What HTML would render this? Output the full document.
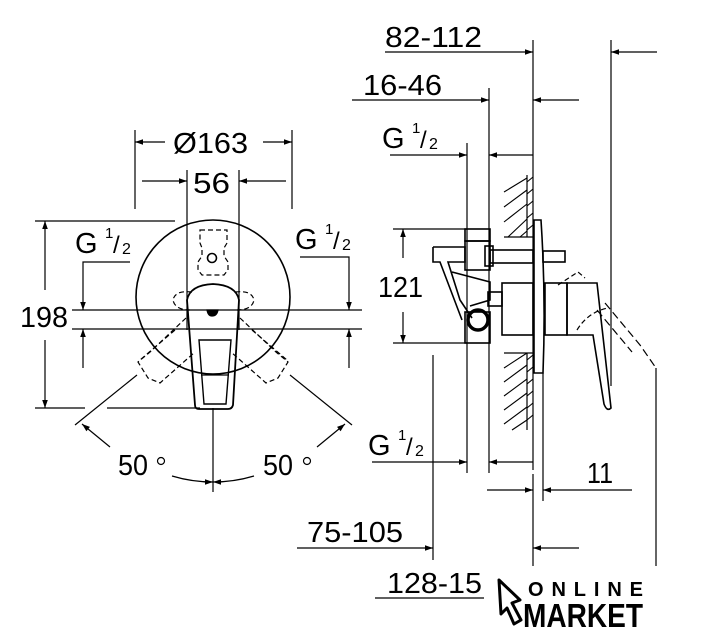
<!DOCTYPE html>
<html><head><meta charset="utf-8"><style>
html,body{margin:0;padding:0;background:#fff;width:704px;height:640px;overflow:hidden}
svg text{font-family:"Liberation Sans",sans-serif;fill:#000}
</style></head><body>
<svg width="704" height="640" viewBox="0 0 704 640" xmlns="http://www.w3.org/2000/svg">
<defs>
<marker id="a" viewBox="0 0 10 10" refX="10" refY="5" markerWidth="14" markerHeight="8" markerUnits="userSpaceOnUse" orient="auto"><path d="M0,1.5 L10,5 L0,8.5 Z" fill="#000"/></marker>
</defs>
<g stroke="#000" stroke-width="1.2" fill="none">
<!-- LEFT VIEW -->
<line x1="135" y1="130" x2="135" y2="209"/><line x1="292" y1="130" x2="292" y2="209"/>
<line x1="165" y1="142" x2="135" y2="142" marker-end="url(#a)"/>
<line x1="263" y1="142" x2="292" y2="142" marker-end="url(#a)"/>
<line x1="187" y1="170" x2="187" y2="330"/><line x1="239" y1="170" x2="239" y2="330"/>
<line x1="142" y1="181" x2="187" y2="181" marker-end="url(#a)"/>
<line x1="286" y1="181" x2="239" y2="181" marker-end="url(#a)"/>
<line x1="35" y1="221" x2="175" y2="221"/>
<line x1="35" y1="408" x2="85" y2="408"/><line x1="107" y1="408" x2="200" y2="408"/>
<line x1="45" y1="290" x2="45" y2="221" marker-end="url(#a)"/>
<line x1="45" y1="340" x2="45" y2="408" marker-end="url(#a)"/>
<line x1="72" y1="310" x2="362" y2="310"/><line x1="72" y1="329" x2="362" y2="329"/>
<polyline points="130,262 83,262 83,310" marker-end="url(#a)"/>
<line x1="83" y1="368" x2="83" y2="329" marker-end="url(#a)"/>
<polyline points="300,257 349,257 349,310" marker-end="url(#a)"/>
<line x1="349" y1="368" x2="349" y2="329" marker-end="url(#a)"/>
<circle cx="213" cy="297" r="77" stroke-width="1.6"/>
<g stroke-dasharray="5,3">
<path d="M200,230 H227 V243 L224,248 V256 L228,262 V270 L224,275 H202 L198,270 V262 L202,256 V248 L200,243 Z"/>
<path d="M192,292 Q175,290 173,300 Q175,310 190,310"/>
<path d="M235,292 Q252,290 254,300 Q252,310 237,310"/>
<path d="M186,318 L150,352 L138,362 L148,378 L160,383 L195,352"/>
<path d="M240,318 L276,352 L288,362 L278,378 L266,383 L231,352"/>
<path d="M175,330 L140,360"/><path d="M252,330 L287,360"/>
</g>
<path d="M187,300 Q190,285 213,284 Q236,285 239,300 L233,405 Q232,409 228,409 L199,409 Q195,409 195,405 Z" stroke-width="1.8"/>
<path d="M199,340 L231,340 L226,404 L204,404 Z" stroke-width="1.4"/>
<line x1="201" y1="375" x2="229" y2="375"/>
<circle cx="212" cy="258" r="4.5" stroke-width="1.6"/>
<path d="M207,310 H218 Q217,316 212,316 Q208,316 207,310 Z" fill="#000"/>
<line x1="213" y1="408" x2="213" y2="492"/>
<line x1="137" y1="375" x2="75" y2="425"/>
<line x1="290" y1="375" x2="352" y2="425"/>
<line x1="110" y1="447" x2="82" y2="424" marker-end="url(#a)"/>
<line x1="317" y1="447" x2="345" y2="424" marker-end="url(#a)"/>
<path d="M172,476 Q192,482 213,482" marker-end="url(#a)"/>
<path d="M254,476 Q234,482 213,482" marker-end="url(#a)"/>
<circle cx="161" cy="461" r="3.5"/>
<circle cx="307" cy="461" r="3.5"/>

<!-- RIGHT VIEW -->
<line x1="533" y1="40" x2="533" y2="470"/><line x1="533" y1="474" x2="533" y2="566"/>
<line x1="611" y1="40" x2="611" y2="386"/>
<line x1="385" y1="52" x2="533" y2="52" marker-end="url(#a)"/>
<line x1="657" y1="52" x2="611" y2="52" marker-end="url(#a)"/>
<line x1="489" y1="88" x2="489" y2="473"/>
<line x1="352" y1="100" x2="489" y2="100" marker-end="url(#a)"/>
<line x1="579" y1="100" x2="533" y2="100" marker-end="url(#a)"/>
<line x1="467" y1="143" x2="467" y2="473"/>
<line x1="390" y1="155" x2="467" y2="155" marker-end="url(#a)"/>
<line x1="533" y1="155" x2="489" y2="155" marker-end="url(#a)"/>
<!-- wall -->
<line x1="527" y1="175" x2="527" y2="237"/><line x1="527" y1="353" x2="527" y2="430"/>
<g stroke-width="1.1">
<line x1="504" y1="192" x2="527" y2="178"/><line x1="504" y1="207" x2="527" y2="190"/><line x1="504" y1="222" x2="527" y2="204"/><line x1="508" y1="237" x2="527" y2="219"/><line x1="520" y1="237" x2="527" y2="231"/>
<line x1="504" y1="368" x2="527" y2="353"/><line x1="504" y1="382" x2="527" y2="365"/><line x1="504" y1="396" x2="527" y2="379"/><line x1="504" y1="410" x2="527" y2="393"/><line x1="504" y1="424" x2="527" y2="407"/><line x1="512" y1="430" x2="527" y2="420"/>
<line x1="527" y1="182" x2="533" y2="177"/><line x1="527" y1="194" x2="533" y2="189"/><line x1="527" y1="206" x2="533" y2="201"/><line x1="527" y1="218" x2="533" y2="213"/><line x1="527" y1="230" x2="533" y2="225"/>
<line x1="527" y1="360" x2="533" y2="355"/><line x1="527" y1="372" x2="533" y2="367"/><line x1="527" y1="384" x2="533" y2="379"/><line x1="527" y1="396" x2="533" y2="391"/><line x1="527" y1="408" x2="533" y2="403"/><line x1="527" y1="420" x2="533" y2="415"/>
</g>
<line x1="504" y1="237" x2="533" y2="237"/><line x1="504" y1="353" x2="533" y2="353"/>
<path d="M534,220 H541 Q546,296 543,373 H534 Z" stroke-width="1.6"/>
<!-- 121 -->
<line x1="393" y1="229" x2="467" y2="229"/><line x1="393" y1="343" x2="467" y2="343"/>
<line x1="403" y1="258" x2="403" y2="229" marker-end="url(#a)"/>
<line x1="403" y1="312" x2="403" y2="343" marker-end="url(#a)"/>
<line x1="433" y1="355" x2="433" y2="560"/>
<g stroke-width="1.6">
<rect x="465" y="229" width="25" height="12"/>
<rect x="465" y="241" width="25" height="29"/>
<path d="M433,247 H465 V262 H448 L460,300 L472,318 M433,247 V262 L440,262 L462,320"/>
<path d="M452,272 L490,282 V300 L470,306"/>
<rect x="490" y="250" width="43" height="13"/>
<rect x="485" y="246" width="8" height="20"/>
<rect x="543" y="251" width="22" height="11"/>
<rect x="502" y="283" width="31" height="52"/>
<rect x="488" y="292" width="14" height="14"/>
<rect x="545" y="283" width="22" height="52"/>
<rect x="465" y="312" width="25" height="31"/>
<circle cx="478" cy="320" r="10" stroke-width="3.5"/>
<path d="M567,283 H597 L611,408 Q607,412 604,404 L593,335 H567 Z"/>
</g>
<path d="M558,285 L578,272 L585,278" stroke-dasharray="5,3"/>
<path d="M577,330 Q588,312 608,308" stroke-dasharray="5,3"/>
<path d="M605,303 L640,345 L656,368 M597,310 L632,352" stroke-dasharray="8,4"/>
<line x1="656" y1="368" x2="656" y2="566"/>
<!-- lower dims -->
<line x1="372" y1="462" x2="467" y2="462" marker-end="url(#a)"/>
<line x1="533" y1="462" x2="489" y2="462" marker-end="url(#a)"/>
<line x1="543" y1="373" x2="543" y2="501"/>
<line x1="487" y1="490" x2="533" y2="490" marker-end="url(#a)"/>
<line x1="632" y1="490" x2="543" y2="490" marker-end="url(#a)"/>
<line x1="297" y1="548" x2="433" y2="548" marker-end="url(#a)"/>
<line x1="579" y1="548" x2="533" y2="548" marker-end="url(#a)"/>
<line x1="375" y1="598" x2="484" y2="598"/>
<path d="M499,580 L520,600 L512,603 L521,620 L514,624 L507,608 L501,614 Z" stroke-width="3" stroke-linejoin="round"/>
</g>
<g font-size="29">
<text x="173" y="153" textLength="75" lengthAdjust="spacingAndGlyphs">Ø163</text>
<text x="193" y="193" textLength="37" lengthAdjust="spacingAndGlyphs">56</text>
<text x="20" y="327" textLength="48" lengthAdjust="spacingAndGlyphs">198</text>
<text x="378" y="297" textLength="45" lengthAdjust="spacingAndGlyphs">121</text>
<text x="385" y="47" textLength="97" lengthAdjust="spacingAndGlyphs">82-112</text>
<text x="363" y="95" textLength="79" lengthAdjust="spacingAndGlyphs">16-46</text>
<text x="587" y="483" textLength="26" lengthAdjust="spacingAndGlyphs">11</text>
<text x="307" y="542" textLength="96" lengthAdjust="spacingAndGlyphs">75-105</text>
<text x="387" y="593" textLength="95" lengthAdjust="spacingAndGlyphs">128-15</text>
<text x="118" y="475" textLength="30" lengthAdjust="spacingAndGlyphs">50</text>
<text x="263" y="475" textLength="30" lengthAdjust="spacingAndGlyphs">50</text>
</g>
<g font-size="29">
<text x="75" y="253">G</text><text x="105" y="238" font-size="15">1</text><text x="113" y="253" font-size="24">/</text><text x="122" y="254" font-size="16">2</text>
<text x="295" y="249">G</text><text x="325" y="234" font-size="15">1</text><text x="333" y="249" font-size="24">/</text><text x="342" y="250" font-size="16">2</text>
<text x="382" y="148">G</text><text x="412" y="133" font-size="15">1</text><text x="420" y="148" font-size="24">/</text><text x="429" y="149" font-size="16">2</text>
<text x="368" y="455">G</text><text x="398" y="440" font-size="15">1</text><text x="406" y="455" font-size="24">/</text><text x="415" y="456" font-size="16">2</text>
</g>
<text x="528" y="596" font-size="20" font-weight="bold" textLength="115" lengthAdjust="spacing">ONLINE</text>
<text x="523" y="627" font-size="33" font-weight="bold" textLength="120" lengthAdjust="spacingAndGlyphs">MARKET</text>
</svg>
</body></html>
